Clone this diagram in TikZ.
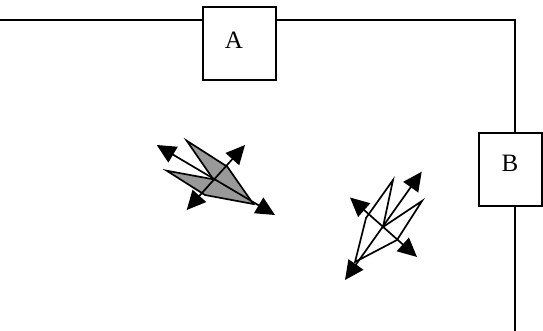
\documentclass[tikz,border=0pt]{standalone}
\usepackage{fontspec}
\setmainfont{Liberation Serif}
\usetikzlibrary{arrows.meta}
\definecolor{shade}{RGB}{153,153,153}
\tikzset{
  box/.style={draw=black, line width=1.2pt, fill=white, minimum width=73pt, minimum height=73pt, inner sep=0pt},
  lbl/.style={inner sep=0pt, font=\fontsize{25}{28}\selectfont},
  wire/.style={draw=black, line width=1.1pt},
  dbl/.style={line width=1.7pt, {Triangle[length=19pt,width=18pt]}-{Triangle[length=19pt,width=18pt]}},
  kite/.style={line width=1.7pt, line join=miter},
}
\begin{document}
\begin{tikzpicture}[x=1pt,y=-1pt]
\useasboundingbox (0,0) rectangle (543,331);
% wires
\coordinate (L0) at (0,20);
\coordinate (K) at (515,20);
\coordinate (Kend) at (515,331);
\node[box] (A) at (239.5,43.5) {};
\node[box, minimum width=63pt] (B) at (510.5,169.5) {};
\node[lbl] (At) at (234,40) {A};
\node[lbl] (Bt) at (510,163) {B};
\draw[wire] (L0) -- (L0 -| A.west);
\draw[wire] (L0 -| A.east) -- (K) -- (K |- B.north);
\draw[wire] (K |- B.south) -- (Kend);
% gray kite
\coordinate (gT) at (186.7,140.7);
\coordinate (gR) at (227.3,166.7);
\coordinate (gP) at (253.3,204);
\coordinate (gB) at (205,195);
\coordinate (gL) at (166.7,170.7);
\coordinate (gC) at (213.3,179.3);
\filldraw[kite, fill=shade] (gT) -- (gR) -- (gP) -- (gB) -- (gL) -- (gC) -- cycle;
\coordinate (g1a) at (156.7,145);
\coordinate (g1b) at (275,215);
\coordinate (g2a) at (245,145);
\coordinate (g2b) at (186.7,210);
\draw[dbl] (g1a) -- (g1b);
\draw[dbl] (g2a) -- (g2b);
% white kite
\coordinate (wT) at (393,180);
\coordinate (wL) at (366,218);
\coordinate (wP) at (355,262);
\coordinate (wR2) at (397,240);
\coordinate (wR) at (422,201);
\coordinate (wC) at (383,227);
\draw[kite] (wT) -- (wL) -- (wP) -- (wR2) -- (wR) -- (wC) -- cycle;
\coordinate (w1a) at (350,197.5);
\coordinate (w1b) at (417,257);
\coordinate (w2a) at (345,280);
\coordinate (w2b) at (421.7,171.7);
\draw[dbl] (w1a) -- (w1b);
\draw[dbl] (w2a) -- (w2b);
\end{tikzpicture}
\end{document}
